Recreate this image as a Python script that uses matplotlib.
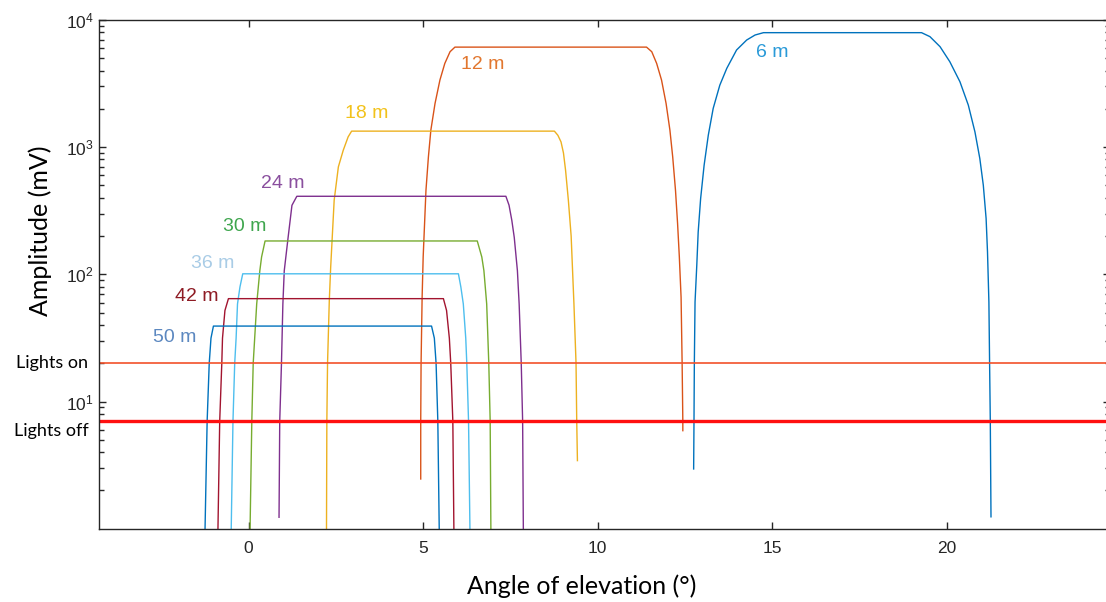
import matplotlib
matplotlib.use("Agg")
import numpy as np
import matplotlib.pyplot as plt
from matplotlib.ticker import FixedLocator, LogLocator, NullFormatter, FuncFormatter
from matplotlib.transforms import blended_transform_factory

plt.rcParams["font.family"] = ["Liberation Sans", "DejaVu Sans"]
plt.rcParams["mathtext.fontset"] = "custom"
plt.rcParams["mathtext.rm"] = "Liberation Sans"
plt.rcParams["mathtext.it"] = "Liberation Sans"

# distances, one curve each
ranges = ["6 m", "12 m", "18 m", "24 m", "30 m", "36 m", "42 m", "50 m"]

# angle of elevation (deg) and amplitude (mV)
angle_6m = [12.75, 12.76, 12.77, 12.79, 12.84, 12.88, 12.95, 13.05, 13.17, 13.31, 13.50,
            13.70, 13.98, 14.27, 14.51, 14.75,
            19.28, 19.52, 19.81, 20.09, 20.38, 20.62, 20.81, 20.95, 21.05, 21.13,
            21.17, 21.21, 21.23, 21.25, 21.27]
amp_6m = [2.95, 7, 20, 60.6, 118, 215, 394, 721, 1243, 2018, 3075,
          4170, 5810, 6960, 7620, 7950,
          7950, 7400, 6170, 4700, 3270, 2142, 1319, 814, 502, 275,
          150, 60.6, 20, 7, 1.24]

angle_12m = [4.93, 4.93, 4.94, 4.97, 5.00, 5.04, 5.08, 5.15, 5.22, 5.34, 5.48, 5.62, 5.77, 5.91,
             11.40, 11.55, 11.69, 11.83, 11.96, 12.07, 12.15, 12.23, 12.29, 12.34, 12.39,
             12.42, 12.44, 12.44]
amp_12m = [2.46, 7, 20, 66, 137, 250, 458, 839, 1361, 2208, 3372, 4556, 5630, 6120,
           6120, 5630, 4556, 3372, 2208, 1361, 839, 458, 250, 137, 66,
           20, 7, 5.9]

angle_18m = [2.23, 2.24, 2.26, 2.31, 2.35, 2.40, 2.45, 2.57, 2.71, 2.85, 2.95,
             8.76, 8.86, 8.95, 9.02, 9.08, 9.16, 9.24, 9.32, 9.38, 9.40, 9.42]
amp_18m = [1.0, 7, 20, 62, 114, 209, 383, 700, 946, 1205, 1337,
           1337, 1240, 1100, 900, 659, 383, 200, 58.5, 20, 7, 3.43]

angle_24m = [0.87, 0.89, 0.94, 0.98, 1.02, 1.13, 1.24, 1.38,
             7.37, 7.46, 7.54, 7.61, 7.70, 7.75, 7.81, 7.85, 7.87]
amp_24m = [1.23, 7, 20, 58.5, 107, 195, 349, 411,
           411, 350, 266, 195, 107, 58.5, 20, 7, 1.0]

angle_30m = [0.04, 0.09, 0.13, 0.23, 0.32, 0.37, 0.47,
             6.55, 6.68, 6.74, 6.82, 6.88, 6.92, 6.94]
amp_30m = [1.0, 7, 20, 58.5, 107, 137, 183,
           183, 137, 107, 58.5, 20, 7, 1.0]

angle_36m = [-0.50, -0.45, -0.40, -0.36, -0.32, -0.25, -0.17,
             6.01, 6.08, 6.15, 6.22, 6.25, 6.30, 6.34]
amp_36m = [1.0, 7, 20, 31.5, 58.5, 79.5, 101,
           101, 79.5, 58.5, 31.5, 20, 7, 1.0]

angle_42m = [-0.88, -0.83, -0.77, -0.75, -0.68, -0.58,
             5.58, 5.67, 5.75, 5.79, 5.85, 5.88]
amp_42m = [1.0, 7, 20, 31.5, 52, 64.4,
           64.4, 52, 31.5, 20, 7, 1.0]

angle_50m = [-1.25, -1.19, -1.13, -1.08, -1.01,
             5.24, 5.32, 5.37, 5.42, 5.46]
amp_50m = [1.0, 7, 20, 31.5, 39.2,
           39.2, 31.5, 20, 7, 1.0]

angles = [angle_6m, angle_12m, angle_18m, angle_24m, angle_30m, angle_36m, angle_42m, angle_50m]
amps = [amp_6m, amp_12m, amp_18m, amp_24m, amp_30m, amp_36m, amp_42m, amp_50m]

# light thresholds (mV)
lights_on = 20
lights_off = 7

line_colors = ["#0072BD", "#D95319", "#EDB120", "#7E2F8E", "#77AC30", "#4DBEEE", "#A2142F", "#0072BD"]
label_colors = ["#2A9AD8", "#E2772F", "#F2C21B", "#8A4F9E", "#3FA64E", "#A9CCE6", "#8E1B24", "#5C88C0"]
label_pos = [(14.99, 5600), (6.70, 4450), (3.38, 1850), (0.98, 520),
             (-0.11, 239), (-1.02, 122), (-1.50, 67), (-2.11, 32)]

W, H = 1106, 602
fig = plt.figure(figsize=(W / 100, H / 100), dpi=100)
ax = fig.add_axes([99.3 / W, 1 - 528.7 / H, (1110 - 99.3) / W, (528.7 - 20) / H])

for i in range(len(ranges)):
    ax.plot(angles[i], amps[i], color=line_colors[i], lw=1.0)
    ax.text(label_pos[i][0], label_pos[i][1], ranges[i], color=label_colors[i],
            fontsize=14, ha="center", va="center")

ax.axhline(lights_on, color="#F2512A", lw=1.2)
ax.axhline(lights_off, color="#FF1010", lw=2.4)

ax.set_yscale("log")
ax.set_xlim(-4.28, 24.68)
ax.set_ylim(1, 1e4)
ax.xaxis.set_major_locator(FixedLocator([0, 5, 10, 15, 20]))
ax.yaxis.set_major_locator(FixedLocator([10, 100, 1000, 10000]))
ax.yaxis.set_minor_locator(LogLocator(base=10, subs=np.arange(2, 10)))
ax.yaxis.set_minor_formatter(NullFormatter())
ax.yaxis.set_major_formatter(FuncFormatter(lambda v, _: r"$10^{%d}$" % round(np.log10(v))))

ax.tick_params(which="both", direction="in", top=True, right=True, colors="#262626",
               labelsize=12.5, width=1.0)
ax.tick_params(which="major", length=5)
ax.tick_params(which="minor", length=3.5)
ax.tick_params(axis="x", pad=9)
ax.tick_params(axis="y", pad=4)
for s in ax.spines.values():
    s.set_color("#262626")
    s.set_linewidth(1.0)

trans = blended_transform_factory(ax.transAxes, ax.transData)
ax.text(-0.011, lights_on, "Lights on", transform=trans, ha="right", va="center",
        fontsize=13, family="Lato", color="black")
ax.text(-0.010, 5.9, "Lights off", transform=trans, ha="right", va="center",
        fontsize=13, family="Lato", color="black")

fig.text(40 / W, 1 - 231 / H, "Amplitude (mV)", rotation=90, ha="center", va="center",
         fontsize=18, family="Lato", color="black")
fig.text(582 / W, 1 - 586 / H, "Angle of elevation (°)", ha="center", va="center",
         fontsize=18, family="Lato", color="black")

fig.savefig("out.png", dpi=100)
